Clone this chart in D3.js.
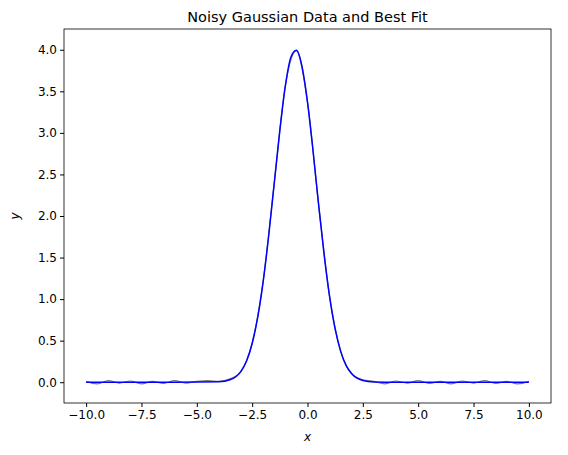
<!DOCTYPE html>
<html><head><meta charset="utf-8">
<script src="https://cdn.jsdelivr.net/npm/d3@7"></script>
<style>body{margin:0;background:#fff}text{font-family:"DejaVu Sans",sans-serif}</style>
</head><body>
<svg id="chart" width="568" height="455"></svg>
<script>
// best fit
const fitX = [-10,-6,-4,-3.5,-3,-2.75,-2.5,-2.25,-2,-1.75,-1.5,-1.25,-1,-0.75,-0.5,-0.25,0,0.25,0.5,0.75,1,1.25,1.5,1.75,2,2.5,3,4,10];
const fitY = [0,0,0.005,0.029,0.134,0.258,0.466,0.779,1.217,1.771,2.40,3.03,3.567,3.911,3.994,3.80,3.37,2.785,2.143,1.538,1.027,0.639,0.371,0.200,0.101,0.021,0.003,0,0];
// noisy data
const dataX = [-10,-9.5,-9,-8.5,-8,-7.5,-7,-6.5,-6,-5.5,-5,-4.5,-4,-3.5,-3,-2.5,-2,-1.5,-1,-0.5,0,0.5,1,1.5,2,2.5,3,3.5,4,4.5,5,5.5,6,6.5,7,7.5,8,8.5,9,9.5,10];
const dataY = [0.01,-0.02,0.02,-0.01,0.015,-0.02,0.01,-0.015,0.02,-0.01,0.01,0.02,0.01,0.04,0.13,0.47,1.22,2.40,3.57,3.99,3.37,2.14,1.03,0.37,0.10,0.03,0.01,-0.02,0.015,-0.01,0.02,-0.015,0.01,-0.02,0.015,-0.01,0.02,-0.015,0.01,-0.02,0.01];
const xTicks = [-10,-7.5,-5,-2.5,0,2.5,5,7.5,10];
const yTicks = [0,0.5,1,1.5,2,2.5,3,3.5,4];

const svg = d3.select("#chart");
const m = {left:64, right:551, top:29, bottom:403};
const x = d3.scaleLinear().domain([-11,11]).range([m.left, m.right]);
const y = d3.scaleLinear().domain([-0.25, 4.25]).range([m.bottom, m.top]);

svg.append("g").attr("transform", `translate(0,${m.bottom})`)
  .call(d3.axisBottom(x).tickValues(xTicks).tickSize(4).tickFormat(d => d3.format(".1f")(d).replace("-","\u2212")))
  .call(g => g.select(".domain").remove());
svg.append("g").attr("transform", `translate(${m.left},0)`)
  .call(d3.axisLeft(y).tickValues(yTicks).tickSize(4).tickFormat(d3.format(".1f")))
  .call(g => g.select(".domain").remove());
svg.selectAll(".tick text").attr("font-size", 12).attr("fill", "#000");

const line = d3.line().curve(d3.curveMonotoneX);
svg.append("path")
  .attr("d", line(dataX.map((v,i) => [x(v), y(dataY[i])])))
  .attr("fill","none").attr("stroke","#555").attr("stroke-width",1.2).attr("opacity",0.8);
svg.append("path")
  .attr("d", line(fitX.map((v,i) => [x(v), y(fitY[i])])))
  .attr("fill","none").attr("stroke","#0000ff").attr("stroke-width",1.5);

svg.append("rect").attr("x",m.left).attr("y",m.top).attr("width",m.right-m.left).attr("height",m.bottom-m.top)
  .attr("fill","none").attr("stroke","#000").attr("stroke-width",0.8);

svg.append("text").attr("x",(m.left+m.right)/2).attr("y",22).attr("text-anchor","middle").attr("font-size",14.5).text("Noisy Gaussian Data and Best Fit");
svg.append("text").attr("x",(m.left+m.right)/2).attr("y",441).attr("text-anchor","middle").attr("font-size",12).attr("font-style","italic").text("x");
svg.append("text").attr("transform",`translate(19,${(m.top+m.bottom)/2}) rotate(-90)`).attr("text-anchor","middle").attr("font-size",12).attr("font-style","italic").text("y");
</script>
</body></html>
